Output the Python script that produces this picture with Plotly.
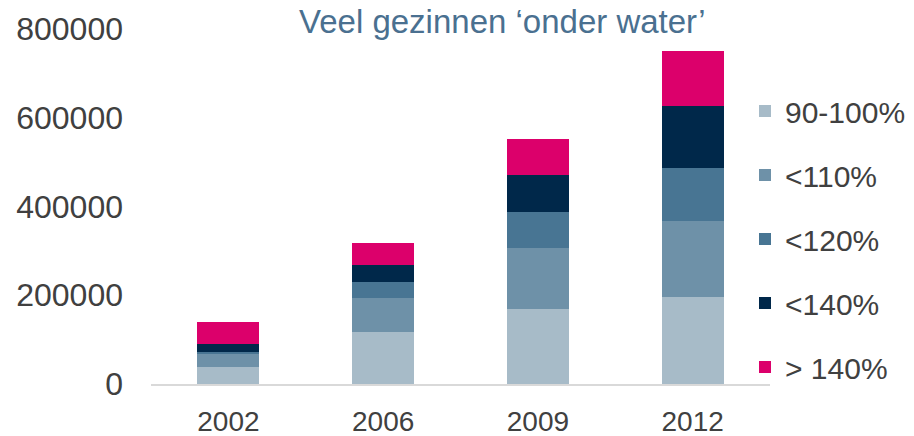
import plotly.graph_objects as go

years = ["2002", "2006", "2009", "2012"]
series_names = ["90-100%", "<110%", "<120%", "<140%", "> 140%"]
s_90_100 = [39000, 118000, 168000, 197000]
s_lt110 = [30000, 75500, 139000, 170000]
s_lt120 = [2000, 36000, 80700, 120000]
s_lt140 = [18500, 38000, 83600, 139000]
s_gt140 = [50000, 51000, 81400, 125500]
y_ticks = [0, 200000, 400000, 600000, 800000]
title_text = "Veel gezinnen ‘onder water’"

colors = ["#A7BBC8", "#6E91A8", "#487593", "#00284A", "#DC006B"]
all_series = [s_90_100, s_lt110, s_lt120, s_lt140, s_gt140]

fig = go.Figure()
for name, vals, col in zip(series_names, all_series, colors):
    fig.add_trace(go.Bar(
        x=years, y=vals, name=name, legendgroup=name,
        marker=dict(color=col, line=dict(width=0)),
    ))

W, H = 914, 436
ml, mr, mt, mb = 151, 144, 29, 52
pw, ph = W - ml - mr, H - mt - mb
plot_bottom = H - mb

font_family = "Liberation Sans, Arial, sans-serif"
fig.update_layout(
    width=W, height=H,
    margin=dict(l=ml, r=mr, t=mt, b=mb, pad=0, autoexpand=False),
    barmode="stack", bargap=0.6,
    plot_bgcolor="white", paper_bgcolor="white",
    font=dict(family=font_family, color="#404040"),
    showlegend=True,
    legend=dict(
        x=(745 - ml) / pw, xanchor="left",
        y=(plot_bottom - 85) / ph, yanchor="top",
        traceorder="grouped", tracegroupgap=22,
        font=dict(size=30, color="#404040", family=font_family),
        bgcolor="rgba(0,0,0,0)",
    ),
    xaxis=dict(
        showline=True, linecolor="#D9D9D9", linewidth=2,
        showgrid=False, ticks="", ticklabelstandoff=11,
        tickfont=dict(size=28, color="#404040"),
        zeroline=False, automargin=False,
    ),
    yaxis=dict(
        range=[0, 800000], tickvals=y_ticks,
        ticktext=[str(v) for v in y_ticks],
        showgrid=False, showline=False, zeroline=False,
        ticks="", ticklabelstandoff=27,
        tickfont=dict(size=32, color="#404040"),
        automargin=False,
    ),
    annotations=[dict(
        text=title_text, xref="paper", yref="paper",
        x=(502 - ml) / pw, y=(plot_bottom - 21) / ph,
        xanchor="center", yanchor="middle", showarrow=False,
        font=dict(size=33, color="#4A7090", family=font_family),
    )],
)

fig.write_html(
    "out.html",
    config={"displayModeBar": False},
    post_script="document.body.style.margin='0';document.body.style.overflow='hidden';",
)
